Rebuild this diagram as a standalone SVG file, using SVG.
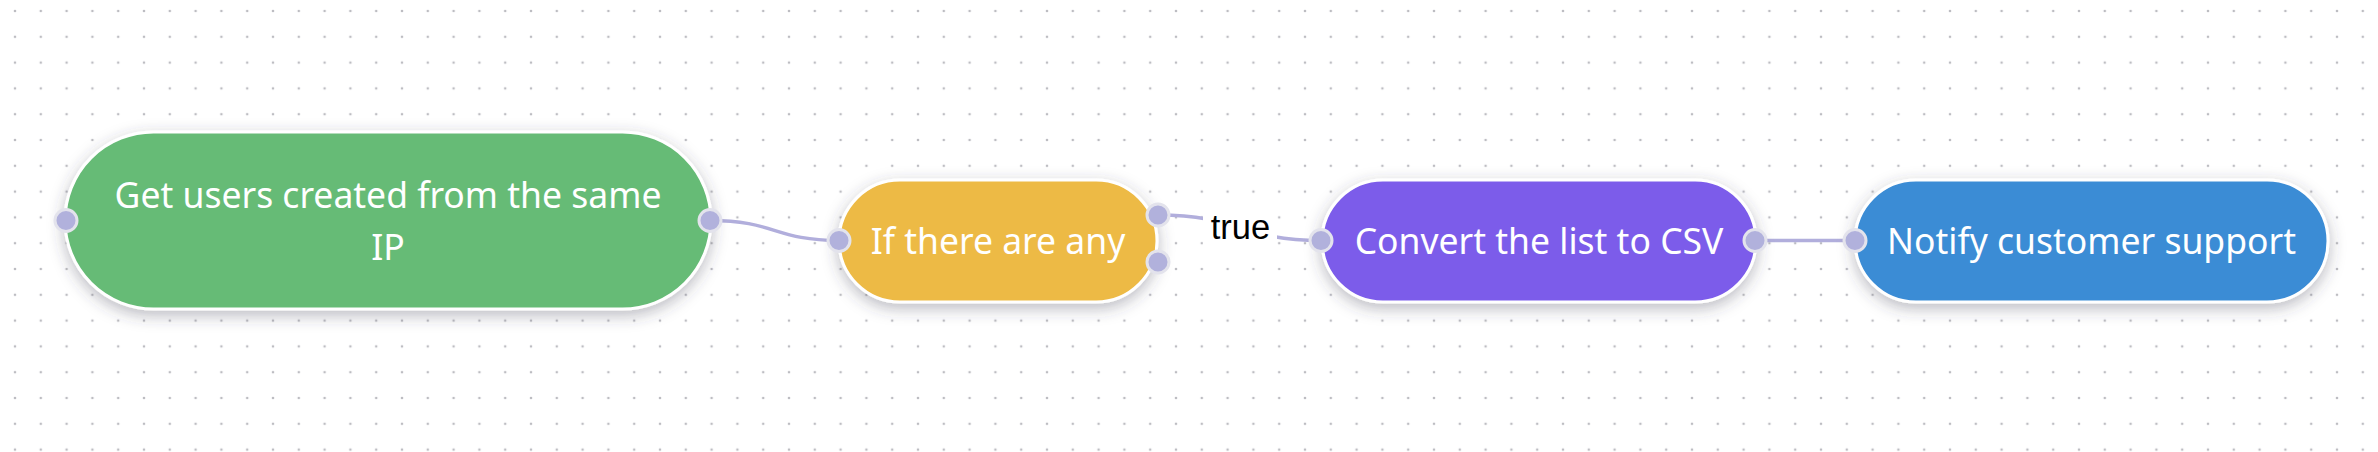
<svg xmlns="http://www.w3.org/2000/svg" width="2378" height="452" viewBox="0 0 2378 452">
  <defs>
    <pattern id="grid" x="2.1" y="-1.9" width="25.8" height="25.8" patternUnits="userSpaceOnUse">
      <circle cx="12.9" cy="12.9" r="1.3" fill="#bdbdc2"/>
    </pattern>
    <filter id="shadow" x="-20%" y="-40%" width="140%" height="190%">
      <feDropShadow dx="0" dy="5" stdDeviation="8" flood-color="#3a3a50" flood-opacity="0.35"/>
    </filter>
    <style>
      .node { stroke: #ffffff; stroke-width: 3; filter: url(#shadow); }
      .label { font-family: "Noto Sans", "Open Sans", sans-serif; font-size: 35.5px; fill: #ffffff; text-anchor: middle; }
      .port { fill: #b1b1dc; stroke: #e3e3ec; stroke-width: 3; }
      .edge { fill: none; stroke: #b1aedc; stroke-width: 3.5; }
      .elabel { font-family: "Liberation Sans", Arial, sans-serif; font-size: 34.5px; fill: #000000; text-anchor: middle; }
    </style>
  </defs>
  <rect x="0" y="0" width="2378" height="452" fill="#ffffff"/>
  <rect x="0" y="0" width="2378" height="452" fill="url(#grid)"/>

  <g id="connectors">
    <path class="edge" d="M 710 220.5 C 775 220.5 775 240.5 839 240.5"/>
    <path class="edge" d="M 1158 215 C 1240 215 1240 240.5 1321 240.5"/>
    <rect x="1203" y="205" width="74" height="42" fill="#ffffff"/>
    <text class="elabel" x="1240.5" y="238.5">true</text>
    <path class="edge" d="M 1755 240.5 L 1855 240.5"/>
  </g>

  <g id="node-get-users">
    <rect class="node" x="65" y="132" width="646" height="177" rx="88.5" ry="88.5" fill="#66bb76"/>
    <text class="label" x="388" y="208">Get users created from the same</text>
    <text class="label" x="388" y="260">IP</text>
    <circle class="port" cx="66" cy="220.5" r="11"/>
    <circle class="port" cx="710" cy="220.5" r="11"/>
  </g>

  <g id="node-if-any">
    <rect class="node" x="839" y="180" width="318" height="122" rx="61" ry="61" fill="#edba45"/>
    <text class="label" x="998" y="253.5">If there are any</text>
    <circle class="port" cx="839" cy="240.5" r="11"/>
    <circle class="port" cx="1158" cy="215" r="11"/>
    <circle class="port" cx="1158" cy="262" r="11"/>
  </g>

  <g id="node-convert-csv">
    <rect class="node" x="1322" y="180" width="434" height="122" rx="61" ry="61" fill="#7b5cea"/>
    <text class="label" x="1539" y="253.5">Convert the list to CSV</text>
    <circle class="port" cx="1321" cy="240.5" r="11"/>
    <circle class="port" cx="1755" cy="240.5" r="11"/>
  </g>

  <g id="node-notify">
    <rect class="node" x="1855" y="180" width="473" height="122" rx="61" ry="61" fill="#3b8cd5"/>
    <text class="label" x="2091.5" y="253.5">Notify customer support</text>
    <circle class="port" cx="1855" cy="240.5" r="11"/>
  </g>
</svg>
